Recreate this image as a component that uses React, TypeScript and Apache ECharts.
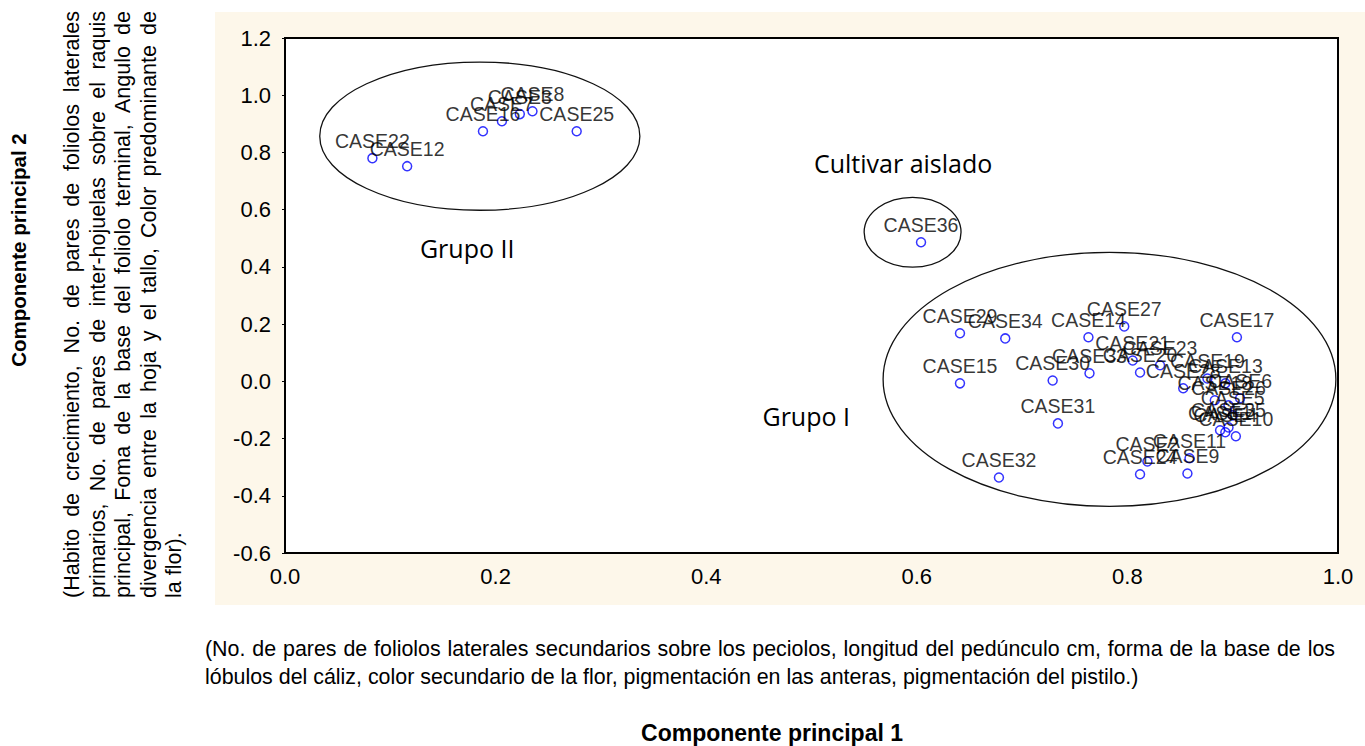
import React, { useEffect, useRef } from "react";
import * as echarts from "echarts";

const caseNames = [
  "CASE22", "CASE12", "CASE16", "CASE7", "CASE3", "CASE8", "CASE25",
  "CASE36",
  "CASE29", "CASE34", "CASE14", "CASE27", "CASE17", "CASE15", "CASE30", "CASE33",
  "CASE21", "CASE20", "CASE23",
  "CASE28", "CASE19", "CASE13", "CASE18", "CASE26", "CASE6", "CASE5", "CASE35",
  "CASE1", "CASE10", "CASE4",
  "CASE2", "CASE24", "CASE11", "CASE9", "CASE31", "CASE32",
];
const pc1 = [
  0.083, 0.116, 0.188, 0.206, 0.223, 0.235, 0.277,
  0.604,
  0.641, 0.684, 0.763, 0.797, 0.904, 0.641, 0.729, 0.764,
  0.805, 0.812, 0.831,
  0.853, 0.876, 0.893, 0.883, 0.896, 0.907, 0.9, 0.896,
  0.888, 0.903, 0.893,
  0.819, 0.812, 0.859, 0.857, 0.734, 0.678,
];
const pc2 = [
  0.78, 0.752, 0.874, 0.909, 0.934, 0.944, 0.874,
  0.486,
  0.168, 0.15, 0.154, 0.192, 0.154, -0.007, 0.003, 0.028,
  0.073, 0.031, 0.056,
  -0.024, 0.01, -0.007, -0.066, -0.084, -0.059, -0.119, -0.161,
  -0.171, -0.192, -0.178,
  -0.28, -0.325, -0.269, -0.322, -0.147, -0.336,
];

// Group ellipses (data units): centre x, centre y, radius x, radius y
const ellipseCx = [0.185, 0.596, 0.783];
const ellipseCy = [0.857, 0.521, 0.007];
const ellipseRx = [0.152, 0.046, 0.215];
const ellipseRy = [0.259, 0.122, 0.444];

const groupLabels = ["Grupo II", "Cultivar aislado", "Grupo I"];
const groupLabelX = [0.173, 0.587, 0.495];
const groupLabelY = [0.465, 0.762, -0.122];

const yTitle = "Componente principal 2";
const yDesc = [
  "(Habito de crecimiento,  No. de pares de foliolos laterales",
  "primarios, No. de pares de inter-hojuelas sobre el raquis",
  "principal, Foma de la base del foliolo terminal, Angulo de",
  "divergencia entre la hoja y el tallo,  Color predominante de",
  "la flor).",
];
const xDesc = [
  "(No. de pares de foliolos  laterales secundarios sobre los peciolos, longitud del pedúnculo cm, forma de la base de los",
  "lóbulos del cáliz, color secundario de la flor, pigmentación en las anteras, pigmentación del pistilo.)",
];
const xTitle = "Componente principal 1";

const FONT = "'Liberation Sans', Arial, sans-serif";

let measureCtx: CanvasRenderingContext2D | null = null;
function measure(text: string, size: number): number {
  if (!measureCtx) measureCtx = document.createElement("canvas").getContext("2d");
  measureCtx!.font = `${size}px 'Liberation Sans', Arial, sans-serif`;
  return measureCtx!.measureText(text).width;
}

// returns offsets of each word along the line so it fills `span` pixels
function justify(line: string, size: number, span: number) {
  const words = line.split(/\s+/).filter((w) => w.length);
  const widths = words.map((w) => measure(w, size));
  const total = widths.reduce((a, b) => a + b, 0);
  const gap = words.length > 1 ? (span - total) / (words.length - 1) : 0;
  const out: { word: string; offset: number }[] = [];
  let pos = 0;
  words.forEach((w, i) => {
    out.push({ word: w, offset: pos });
    pos += widths[i] + gap;
  });
  return out;
}

export default function App() {
  const ref = useRef<HTMLDivElement>(null);
  useEffect(() => {
    document.body.style.margin = "0";
    const chart = echarts.init(ref.current!, undefined, { renderer: "svg" });
    const data = pc1.map((x, i) => [x, pc2[i], caseNames[i]]);
    const option: any = {
      animation: false,
      backgroundColor: "#ffffff",
      grid: {
        left: 285,
        top: 38,
        right: 27,
        bottom: 193,
        show: true,
        backgroundColor: "#ffffff",
        borderColor: "#000",
        borderWidth: 2,
        z: 1,
      },
      xAxis: {
        type: "value",
        min: 0,
        max: 1,
        interval: 0.2,
        axisLine: { show: false },
        axisTick: { show: false },
        axisLabel: {
          fontFamily: FONT,
          fontSize: 22,
          color: "#000",
          margin: 12,
          formatter: (v: number) => v.toFixed(1),
        },
        splitLine: { show: true, lineStyle: { color: "#bbb", type: [2, 18], width: 1 } },
      },
      yAxis: {
        type: "value",
        min: -0.6,
        max: 1.2,
        interval: 0.2,
        axisLine: { show: false },
        axisTick: { show: true, length: 3, lineStyle: { color: "#000" } },
        axisLabel: {
          fontFamily: FONT,
          fontSize: 22,
          color: "#000",
          margin: 14,
          formatter: (v: number) => v.toFixed(1),
        },
        splitLine: { show: true, lineStyle: { color: "#bbb", type: [2, 18], width: 1 } },
      },
      series: [
        {
          type: "scatter",
          data,
          symbol: "circle",
          symbolSize: 9,
          z: 5,
          itemStyle: { color: "rgba(0,0,0,0)", borderColor: "#0000ff", borderWidth: 1.5 },
          label: {
            show: true,
            position: "top",
            distance: 2,
            color: "#000",
            fontFamily: FONT,
            fontSize: 19.5,
            formatter: (p: any) => p.data[2],
          },
        },
      ],
    };
    chart.setOption(option);

    const graphics: any[] = [];
    graphics.push({
      type: "rect",
      z: -100,
      silent: true,
      shape: { x: 215, y: 12, width: 1150, height: 593 },
      style: { fill: "#fdf7ea" },
    });
    for (let i = 0; i < ellipseCx.length; i++) {
      const c = chart.convertToPixel({ gridIndex: 0 }, [ellipseCx[i], ellipseCy[i]]) as number[];
      const e = chart.convertToPixel({ gridIndex: 0 }, [ellipseCx[i] + ellipseRx[i], ellipseCy[i] + ellipseRy[i]]) as number[];
      graphics.push({
        type: "ellipse",
        z: 10,
        silent: true,
        shape: { cx: c[0], cy: c[1], rx: Math.abs(e[0] - c[0]), ry: Math.abs(c[1] - e[1]) },
        style: { fill: "none", stroke: "#111", lineWidth: 1.3 },
      });
    }
    for (let i = 0; i < groupLabels.length; i++) {
      const p = chart.convertToPixel({ gridIndex: 0 }, [groupLabelX[i], groupLabelY[i]]) as number[];
      graphics.push({
        type: "text",
        z: 10,
        x: p[0],
        y: p[1],
        style: {
          text: groupLabels[i],
          fontFamily: "'Open Sans', sans-serif",
          fontSize: 25,
          fill: "#000",
          align: "center",
          verticalAlign: "middle",
        },
      });
    }
    graphics.push({
      type: "text",
      x: 18,
      y: 250,
      rotation: Math.PI / 2,
      style: {
        text: yTitle,
        fontFamily: FONT,
        fontWeight: "bold",
        fontSize: 20.5,
        fill: "#000",
        align: "center",
        verticalAlign: "middle",
      },
    });

    // Left description: rotated, justified lines (bottom to top)
    const lineX = [72, 97.5, 123, 148.5, 174];
    const ySize = 21.5;
    yDesc.forEach((t, i) => {
      const last = i === yDesc.length - 1;
      const pieces = last ? [{ word: t, offset: 0 }] : justify(t, ySize, 587);
      pieces.forEach((pc) => {
        graphics.push({
          type: "text",
          x: lineX[i],
          y: 598 - pc.offset,
          rotation: Math.PI / 2,
          style: {
            text: pc.word,
            fontFamily: FONT,
            fontSize: ySize,
            fill: "#000",
            align: "left",
            verticalAlign: "middle",
          },
        });
      });
    });

    // Bottom description: first line justified to the right margin
    const xSize = 21.4;
    xDesc.forEach((t, i) => {
      const last = i === xDesc.length - 1;
      const pieces = last ? [{ word: t, offset: 0 }] : justify(t, xSize, 1130);
      pieces.forEach((pc) => {
        graphics.push({
          type: "text",
          x: 205 + pc.offset,
          y: 649 + i * 28,
          style: {
            text: pc.word,
            fontFamily: FONT,
            fontSize: xSize,
            fill: "#000",
            align: "left",
            verticalAlign: "middle",
          },
        });
      });
    });
    graphics.push({
      type: "text",
      x: 772,
      y: 733,
      style: {
        text: xTitle,
        fontFamily: FONT,
        fontWeight: "bold",
        fontSize: 23,
        fill: "#000",
        align: "center",
        verticalAlign: "middle",
      },
    });
    chart.setOption({ graphic: graphics });

    return () => chart.dispose();
  }, []);
  return <div ref={ref} style={{ width: 1365, height: 746 }} />;
}
